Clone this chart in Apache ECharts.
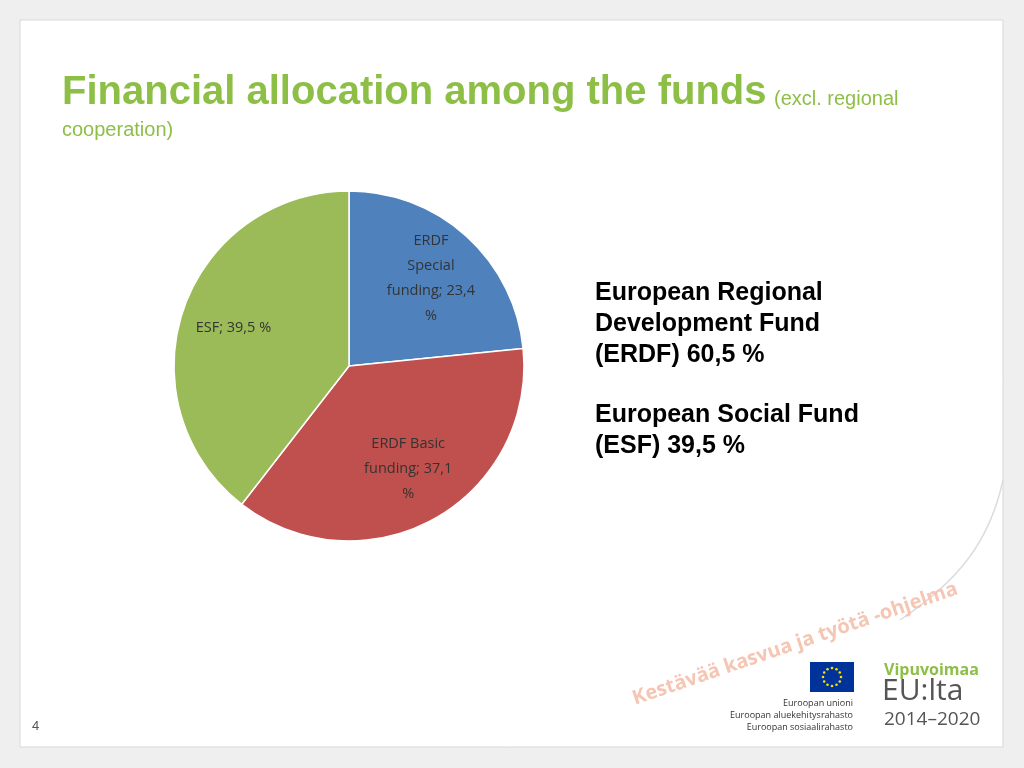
<!DOCTYPE html>
<html>
<head>
<meta charset="utf-8">
<script src="https://cdn.jsdelivr.net/npm/echarts@6/dist/echarts.min.js"></script>
<style>html,body{margin:0;padding:0;background:#efefef}#chart{width:1024px;height:768px}</style>
</head>
<body>
<div id="chart"></div>
<script>
const funds = ['ERDF Special funding', 'ERDF Basic funding', 'ESF']
const labelNames = ['ERDF\nSpecial\nfunding', 'ERDF Basic\nfunding', 'ESF']
const shares = [23.4, 37.1, 39.5]
const colors = ['#4F81BD', '#C0504D', '#9BBB59']

let chart = echarts.init(document.getElementById('chart'))

// EU flag stars
let stars = []
for (let i = 0; i < 12; i++) {
  let a = i * Math.PI / 6
  stars.push({
    type: 'circle',
    shape: { cx: 832 + 9 * Math.cos(a), cy: 677 + 9 * Math.sin(a), r: 1.3 },
    style: { fill: '#FFDD00' }
  })
}

let options = {
  backgroundColor: '#efefef',
  graphic: [
    { type: 'rect', shape: { x: 20, y: 20, width: 983, height: 727 }, style: { fill: '#fff', stroke: '#d8d8d8' }, z: -10 },
    { type: 'bezierCurve', shape: { x1: 1003, y1: 480, cpx1: 990, cpy1: 540, cpx2: 960, cpy2: 580, x2: 900, y2: 620 }, style: { fill: 'none', stroke: '#dddddd', lineWidth: 1.5 } },
    { type: 'text', left: 62, top: 73, style: { text: 'Financial allocation among the funds', font: 'bold 40px "Liberation Sans", Arial', fill: '#8DBF47' } },
    { type: 'text', left: 774, top: 89, style: { text: '(excl. regional', font: '20px "Liberation Sans", Arial', fill: '#8DBF47' } },
    { type: 'text', left: 62, top: 120, style: { text: 'cooperation)', font: '20px "Liberation Sans", Arial', fill: '#8DBF47' } },
    { type: 'text', left: 595, top: 278, style: { text: 'European Regional\nDevelopment Fund\n(ERDF) 60,5 %', font: 'bold 25px "Liberation Sans", Arial', fill: '#000', lineHeight: 31 } },
    { type: 'text', left: 595, top: 400, style: { text: 'European Social Fund\n(ESF) 39,5 %', font: 'bold 25px "Liberation Sans", Arial', fill: '#000', lineHeight: 31 } },
    { type: 'text', x: 630, y: 690, rotation: 0.33, style: { text: 'Kestävää kasvua ja työtä -ohjelma', font: 'bold 20px "Open Sans"', fill: '#F5C6B4' } },
    { type: 'rect', shape: { x: 810, y: 662, width: 44, height: 30 }, style: { fill: '#003399' } },
    ...stars,
    { type: 'text', x: 853, y: 697, style: { text: 'Euroopan unioni\nEuroopan aluekehitysrahasto\nEuroopan sosiaalirahasto', font: '9px "Open Sans"', fill: '#333', align: 'right', lineHeight: 12 } },
    { type: 'text', left: 884, top: 662, style: { text: 'Vipuvoimaa', font: 'bold 16px "Open Sans"', fill: '#8DBF47' } },
    { type: 'text', left: 882, top: 676, style: { text: 'EU:lta', font: '30px "Open Sans"', fill: '#555' } },
    { type: 'text', left: 884, top: 710, style: { text: '2014–2020', font: '19px "Open Sans"', fill: '#555' } },
    { type: 'text', left: 32, top: 720, style: { text: '4', font: '13px "Liberation Sans"', fill: '#555' } }
  ],
  series: [
    {
      type: 'pie',
      center: [349, 366],
      radius: 175,
      startAngle: 90,
      clockwise: true,
      color: colors,
      itemStyle: { borderColor: '#fff', borderWidth: 1.5 },
      label: {
        position: 'inner',
        formatter: p => labelNames[p.dataIndex] + '; ' + String(p.value).replace('.', ',') + (p.dataIndex < 2 ? '\n%' : ' %'),
        color: '#333',
        fontFamily: 'Open Sans',
        fontSize: 14.5,
        lineHeight: 25
      },
      labelLayout: p => {
        let r = p.labelRect
        let cx = r.x + r.width / 2, cy = r.y + r.height / 2
        return { dx: (cx - 349) * 0.35, dy: (cy - 366) * 0.3 }
      },
      data: funds.map((f, i) => ({ name: f, value: shares[i] }))
    }
  ]
}
chart.setOption(options)
</script>
</body>
</html>
